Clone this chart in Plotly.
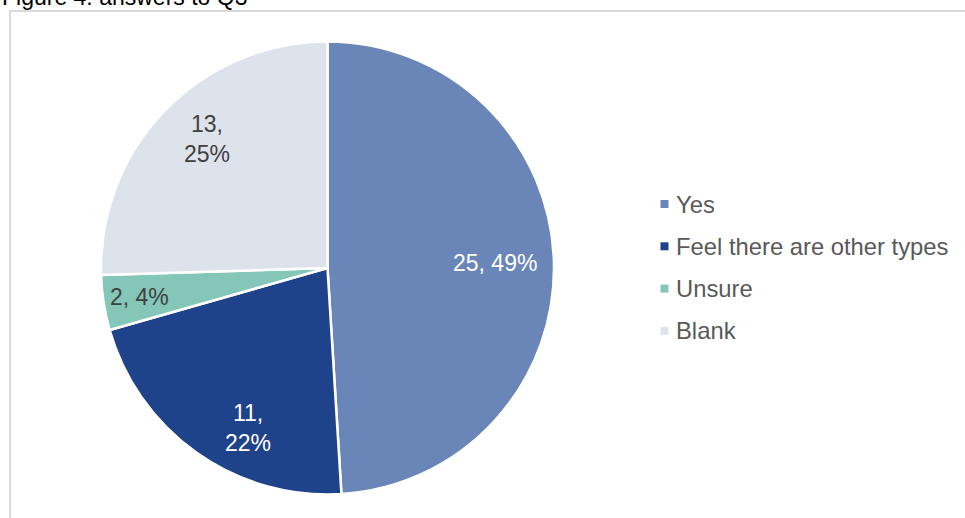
import math
import plotly.graph_objects as go

# Survey answers to Q3
categories = ["Yes", "Feel there are other types", "Unsure", "Blank"]
counts = [25, 11, 2, 13]

# Styling
colors = ["#6A86B8", "#1F438A", "#84C6B8", "#DEE2EB"]
label_colors = ["#FFFFFF", "#FFFFFF", "#404040", "#404040"]
label_breaks = [False, True, False, True]      # two-line data labels
label_radius = [0.74, 0.79, 0.84, 0.78]        # fraction of pie radius
label_shift_deg = [0, -9, 0, 3]                # best-fit nudges

W, H = 965, 518
FONT = "Arial, Liberation Sans, sans-serif"

# Pie geometry in pixels
cx, cy, R = 327.5, 268.0, 226.5

fig = go.Figure()
fig.add_trace(go.Pie(
    labels=categories,
    values=counts,
    sort=False,
    direction="clockwise",
    rotation=0,
    marker=dict(colors=colors, line=dict(color="#FFFFFF", width=2.5)),
    textinfo="none",
    hoverinfo="label+value+percent",
    showlegend=False,
    domain=dict(x=[(cx - R) / W, (cx + R) / W],
                y=[(H - (cy + R)) / H, (H - (cy - R)) / H]),
))

annotations = []
total = sum(counts)
cum = 0
for i, v in enumerate(counts):
    mid = (cum + v / 2) / total * 360 + label_shift_deg[i]
    cum += v
    pct = round(v / total * 100)
    sep = ",<br>" if label_breaks[i] else ", "
    px = cx + label_radius[i] * R * math.sin(math.radians(mid))
    py = cy - label_radius[i] * R * math.cos(math.radians(mid))
    annotations.append(dict(
        x=px / W, y=1 - py / H, xref="paper", yref="paper",
        text=f"{v}{sep}{pct}%", showarrow=False,
        font=dict(family=FONT, size=23, color=label_colors[i]),
        xanchor="center", yanchor="middle", align="center",
    ))

# Legend drawn as marker squares plus text
shapes = []
leg_x, leg_y0, leg_dy, sq = 660.5, 204, 42.3, 8
for i, name in enumerate(categories):
    yc = leg_y0 + i * leg_dy
    shapes.append(dict(
        type="rect", xref="paper", yref="paper",
        x0=leg_x / W, x1=(leg_x + sq) / W,
        y0=1 - (yc + sq / 2) / H, y1=1 - (yc - sq / 2) / H,
        fillcolor=colors[i], line=dict(width=0),
    ))
    annotations.append(dict(
        x=(leg_x + 13) / W, y=1 - yc / H, xref="paper", yref="paper",
        text=name, showarrow=False,
        font=dict(family=FONT, size=23.8, color="#595959"),
        xanchor="left", yanchor="middle", align="left",
    ))

# Chart frame
shapes.append(dict(
    type="rect", xref="paper", yref="paper",
    x0=10 / W, x1=1.05, y0=-0.05, y1=1 - 11 / H,
    line=dict(color="#D9D9D9", width=2), fillcolor="rgba(0,0,0,0)",
    layer="below",
))

# Caption above the frame
annotations.append(dict(
    x=0, y=1 + 3 / H, xref="paper", yref="paper",
    text="Figure 4: answers to Q3", showarrow=False,
    font=dict(family=FONT, size=23, color="#000000"),
    xanchor="left", yanchor="middle", align="left",
))

fig.update_layout(
    width=W, height=H,
    margin=dict(l=0, r=0, t=0, b=0),
    paper_bgcolor="#FFFFFF",
    plot_bgcolor="#FFFFFF",
    shapes=shapes,
    annotations=annotations,
    showlegend=False,
)

fig.write_html("out.html")
